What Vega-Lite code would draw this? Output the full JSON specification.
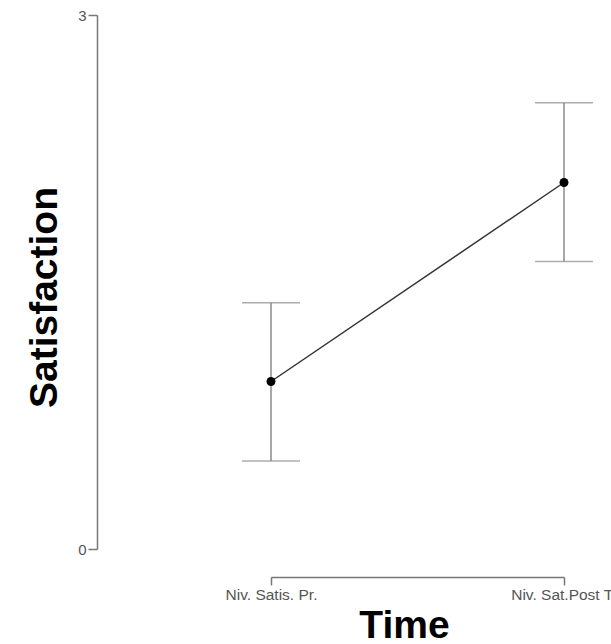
{
  "$schema": "https://vega.github.io/schema/vega-lite/v6.json",
  "autosize": {"type": "none"},
  "padding": {"left": 271, "top": 15, "right": 47, "bottom": 95},
  "width": 293,
  "height": 534,
  "background": "white",
  "config": {"view": {"stroke": null}, "font": "Liberation Sans"},
  "data": {
    "values": [
      {"time": "Niv. Satis. Pr.", "mean": 0.941, "lower": 0.494, "upper": 1.384},
      {"time": "Niv. Sat.Post Tr", "mean": 2.059, "lower": 1.615, "upper": 2.507}
    ]
  },
  "encoding": {
    "x": {
      "field": "time",
      "type": "nominal",
      "sort": null,
      "scale": {"type": "point", "padding": 0},
      "axis": {
        "title": "Time",
        "titleFont": "Liberation Sans",
        "titleFontSize": 39,
        "titleFontWeight": "bold",
        "titleColor": "#000000",
        "titleX": 133,
        "titleY": 60,
        "titleBaseline": "alphabetic",
        "offset": 28,
        "labelAngle": 0,
        "labelFontSize": 15.5,
        "labelColor": "#555555",
        "labelPadding": 2,
        "tickSize": 8,
        "tickColor": "#777777",
        "tickWidth": 1.5,
        "domainColor": "#777777",
        "domainWidth": 1.5,
        "grid": false
      }
    }
  },
  "layer": [
    {
      "mark": {"type": "rule", "color": "#8a8a8a", "strokeWidth": 1.5},
      "encoding": {
        "y": {
          "field": "lower",
          "type": "quantitative",
          "scale": {"domain": [0, 3], "nice": false, "zero": false},
          "axis": {
            "title": "Satisfaction",
            "titleFont": "Liberation Sans",
            "titleFontSize": 39,
            "titleFontWeight": "bold",
            "titleColor": "#000000",
            "titleX": -41,
            "titleY": 282,
            "titleBaseline": "alphabetic",
            "offset": 174,
            "values": [0, 3],
            "format": "d",
            "labelFontSize": 15,
            "labelColor": "#555555",
            "labelPadding": 2,
            "tickSize": 9,
            "tickColor": "#777777",
            "tickWidth": 1.5,
            "domainColor": "#777777",
            "domainWidth": 1.5,
            "grid": false
          }
        },
        "y2": {"field": "upper"}
      }
    },
    {
      "mark": {"type": "tick", "color": "#8a8a8a", "size": 58, "thickness": 1.5},
      "encoding": {"y": {"field": "upper", "type": "quantitative"}}
    },
    {
      "mark": {"type": "tick", "color": "#8a8a8a", "size": 58, "thickness": 1.5},
      "encoding": {"y": {"field": "lower", "type": "quantitative"}}
    },
    {
      "mark": {"type": "line", "color": "#333333", "strokeWidth": 1.5},
      "encoding": {"y": {"field": "mean", "type": "quantitative"}}
    },
    {
      "mark": {"type": "point", "filled": true, "color": "#000000", "size": 80, "opacity": 1},
      "encoding": {"y": {"field": "mean", "type": "quantitative"}}
    }
  ]
}
